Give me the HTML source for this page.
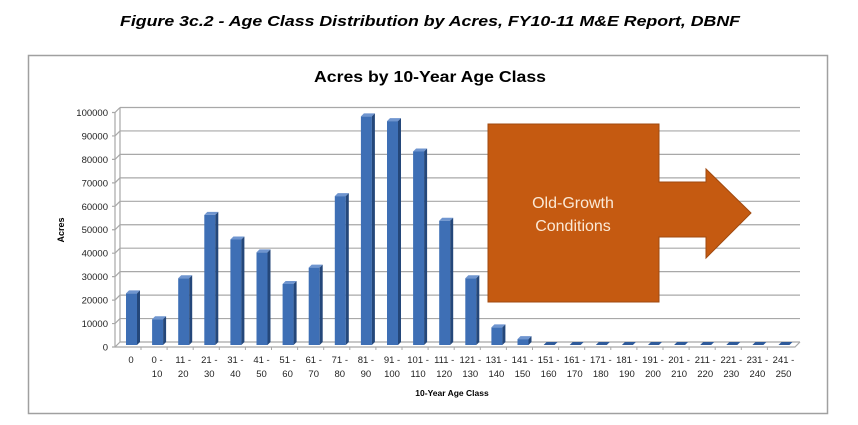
<!DOCTYPE html>
<html><head><meta charset="utf-8"><style>
html,body{margin:0;padding:0;background:#fff;}
svg{display:block;}
</style></head><body>
<svg width="858" height="425" viewBox="0 0 858 425" xmlns="http://www.w3.org/2000/svg" font-family="Liberation Sans, sans-serif">
<text x="430" y="26" text-anchor="middle" font-size="15" font-weight="bold" font-style="italic" textLength="620" lengthAdjust="spacingAndGlyphs">Figure 3c.2 - Age Class Distribution by Acres, FY10-11 M&amp;E Report, DBNF</text>
<rect x="28.5" y="55.5" width="799" height="358" fill="#fff" stroke="#a0a0a0" stroke-width="1.5"/>
<text x="430" y="82" text-anchor="middle" font-size="16" font-weight="bold" textLength="232" lengthAdjust="spacingAndGlyphs">Acres by 10-Year Age Class</text>
<g stroke="#a8a8a8" stroke-width="1.2" fill="none">
<path d="M120 342H800M120 318.55H800M120 295.1H800M120 271.65H800M120 248.2H800M120 224.75H800M120 201.3H800M120 177.85H800M120 154.4H800M120 130.95H800M120 107.5H800"/>
<path d="M112 347H115L120 342M112 323.55H115L120 318.55M112 300.1H115L120 295.1M112 276.65H115L120 271.65M112 253.2H115L120 248.2M112 229.75H115L120 224.75M112 206.3H115L120 201.3M112 182.85H115L120 177.85M112 159.4H115L120 154.4M112 135.95H115L120 130.95M112 112.5H115L120 107.5"/>
<path d="M120 107.5V342M115 112.5V347M115 347H795L800 342"/>
</g>
<g font-size="9.5" text-anchor="end" fill="#222">
<text x="108" y="350.5">0</text><text x="108" y="327">10000</text><text x="108" y="303.6">20000</text><text x="108" y="280.2">30000</text><text x="108" y="256.7">40000</text><text x="108" y="233.2">50000</text><text x="108" y="209.8">60000</text><text x="108" y="186.3">70000</text><text x="108" y="162.9">80000</text><text x="108" y="139.5">90000</text><text x="108" y="116">100000</text>
</g>
<text transform="translate(64,230) rotate(-90)" text-anchor="middle" font-size="9" font-weight="bold">Acres</text>
<g>
<g transform="translate(126,293.4)"><rect width="11" height="51.6" fill="#3e6fb5"/><polygon points="0,0 3,-3 14,-3 11,0" fill="#6f95cf"/><polygon points="11,0 14,-3 14,48.6 11,51.6" fill="#24477a"/></g>
<g transform="translate(152.1,319.2)"><rect width="11" height="25.8" fill="#3e6fb5"/><polygon points="0,0 3,-3 14,-3 11,0" fill="#6f95cf"/><polygon points="11,0 14,-3 14,22.8 11,25.8" fill="#24477a"/></g>
<g transform="translate(178.2,278.2)"><rect width="11" height="66.8" fill="#3e6fb5"/><polygon points="0,0 3,-3 14,-3 11,0" fill="#6f95cf"/><polygon points="11,0 14,-3 14,63.8 11,66.8" fill="#24477a"/></g>
<g transform="translate(204.3,214.9)"><rect width="11" height="130.1" fill="#3e6fb5"/><polygon points="0,0 3,-3 14,-3 11,0" fill="#6f95cf"/><polygon points="11,0 14,-3 14,127.1 11,130.1" fill="#24477a"/></g>
<g transform="translate(230.4,239.5)"><rect width="11" height="105.5" fill="#3e6fb5"/><polygon points="0,0 3,-3 14,-3 11,0" fill="#6f95cf"/><polygon points="11,0 14,-3 14,102.5 11,105.5" fill="#24477a"/></g>
<g transform="translate(256.5,252.4)"><rect width="11" height="92.6" fill="#3e6fb5"/><polygon points="0,0 3,-3 14,-3 11,0" fill="#6f95cf"/><polygon points="11,0 14,-3 14,89.6 11,92.6" fill="#24477a"/></g>
<g transform="translate(282.6,284)"><rect width="11" height="61" fill="#3e6fb5"/><polygon points="0,0 3,-3 14,-3 11,0" fill="#6f95cf"/><polygon points="11,0 14,-3 14,58 11,61" fill="#24477a"/></g>
<g transform="translate(308.7,267.6)"><rect width="11" height="77.4" fill="#3e6fb5"/><polygon points="0,0 3,-3 14,-3 11,0" fill="#6f95cf"/><polygon points="11,0 14,-3 14,74.4 11,77.4" fill="#24477a"/></g>
<g transform="translate(334.8,196.1)"><rect width="11" height="148.9" fill="#3e6fb5"/><polygon points="0,0 3,-3 14,-3 11,0" fill="#6f95cf"/><polygon points="11,0 14,-3 14,145.9 11,148.9" fill="#24477a"/></g>
<g transform="translate(360.9,116.4)"><rect width="11" height="228.6" fill="#3e6fb5"/><polygon points="0,0 3,-3 14,-3 11,0" fill="#6f95cf"/><polygon points="11,0 14,-3 14,225.6 11,228.6" fill="#24477a"/></g>
<g transform="translate(387,121.1)"><rect width="11" height="223.9" fill="#3e6fb5"/><polygon points="0,0 3,-3 14,-3 11,0" fill="#6f95cf"/><polygon points="11,0 14,-3 14,220.9 11,223.9" fill="#24477a"/></g>
<g transform="translate(413.1,151.5)"><rect width="11" height="193.5" fill="#3e6fb5"/><polygon points="0,0 3,-3 14,-3 11,0" fill="#6f95cf"/><polygon points="11,0 14,-3 14,190.5 11,193.5" fill="#24477a"/></g>
<g transform="translate(439.2,220.7)"><rect width="11" height="124.3" fill="#3e6fb5"/><polygon points="0,0 3,-3 14,-3 11,0" fill="#6f95cf"/><polygon points="11,0 14,-3 14,121.3 11,124.3" fill="#24477a"/></g>
<g transform="translate(465.3,278.2)"><rect width="11" height="66.8" fill="#3e6fb5"/><polygon points="0,0 3,-3 14,-3 11,0" fill="#6f95cf"/><polygon points="11,0 14,-3 14,63.8 11,66.8" fill="#24477a"/></g>
<g transform="translate(491.4,327.4)"><rect width="11" height="17.6" fill="#3e6fb5"/><polygon points="0,0 3,-3 14,-3 11,0" fill="#6f95cf"/><polygon points="11,0 14,-3 14,14.6 11,17.6" fill="#24477a"/></g>
<g transform="translate(517.5,339.1)"><rect width="11" height="5.9" fill="#3e6fb5"/><polygon points="0,0 3,-3 14,-3 11,0" fill="#6f95cf"/><polygon points="11,0 14,-3 14,2.9 11,5.9" fill="#24477a"/></g>
<g fill="#2e5a9a">
<polygon points="543.6,345 546.6,342 557.6,342 554.6,345"/><polygon points="569.7,345 572.7,342 583.7,342 580.7,345"/><polygon points="595.8,345 598.8,342 609.8,342 606.8,345"/><polygon points="621.9,345 624.9,342 635.9,342 632.9,345"/><polygon points="648,345 651,342 662,342 659,345"/><polygon points="674.1,345 677.1,342 688.1,342 685.1,345"/><polygon points="700.2,345 703.2,342 714.2,342 711.2,345"/><polygon points="726.3,345 729.3,342 740.3,342 737.3,345"/><polygon points="752.4,345 755.4,342 766.4,342 763.4,345"/><polygon points="778.5,345 781.5,342 792.5,342 789.5,345"/>
</g>
</g>
<g stroke="#a8a8a8" stroke-width="1"><path d="M141 347v3M167.1 347v3M193.2 347v3M219.3 347v3M245.4 347v3M271.5 347v3M297.6 347v3M323.7 347v3M349.8 347v3M375.9 347v3M402 347v3M428.1 347v3M454.2 347v3M480.3 347v3M506.4 347v3M532.5 347v3M558.6 347v3M584.7 347v3M610.8 347v3M636.9 347v3M663 347v3M689.1 347v3M715.2 347v3M741.3 347v3M767.4 347v3"/></g>
<g font-size="9.5" text-anchor="middle" fill="#222">
<text x="131" y="363">0</text>
<text x="157.1" y="363">0 -</text><text x="157.1" y="377">10</text>
<text x="183.2" y="363">11 -</text><text x="183.2" y="377">20</text>
<text x="209.3" y="363">21 -</text><text x="209.3" y="377">30</text>
<text x="235.4" y="363">31 -</text><text x="235.4" y="377">40</text>
<text x="261.5" y="363">41 -</text><text x="261.5" y="377">50</text>
<text x="287.6" y="363">51 -</text><text x="287.6" y="377">60</text>
<text x="313.7" y="363">61 -</text><text x="313.7" y="377">70</text>
<text x="339.8" y="363">71 -</text><text x="339.8" y="377">80</text>
<text x="365.9" y="363">81 -</text><text x="365.9" y="377">90</text>
<text x="392" y="363">91 -</text><text x="392" y="377">100</text>
<text x="418.1" y="363">101 -</text><text x="418.1" y="377">110</text>
<text x="444.2" y="363">111 -</text><text x="444.2" y="377">120</text>
<text x="470.3" y="363">121 -</text><text x="470.3" y="377">130</text>
<text x="496.4" y="363">131 -</text><text x="496.4" y="377">140</text>
<text x="522.5" y="363">141 -</text><text x="522.5" y="377">150</text>
<text x="548.6" y="363">151 -</text><text x="548.6" y="377">160</text>
<text x="574.7" y="363">161 -</text><text x="574.7" y="377">170</text>
<text x="600.8" y="363">171 -</text><text x="600.8" y="377">180</text>
<text x="626.9" y="363">181 -</text><text x="626.9" y="377">190</text>
<text x="653" y="363">191 -</text><text x="653" y="377">200</text>
<text x="679.1" y="363">201 -</text><text x="679.1" y="377">210</text>
<text x="705.2" y="363">211 -</text><text x="705.2" y="377">220</text>
<text x="731.3" y="363">221 -</text><text x="731.3" y="377">230</text>
<text x="757.4" y="363">231 -</text><text x="757.4" y="377">240</text>
<text x="783.5" y="363">241 -</text><text x="783.5" y="377">250</text>
</g>
<text x="452" y="396" text-anchor="middle" font-size="8.5" font-weight="bold">10-Year Age Class</text>
<polygon points="488,124 659,124 659,182 706,182 706,169 751,213 706,258 706,237 659,237 659,302 488,302" fill="#c55a11" stroke="#a04a10" stroke-width="1"/>
<text x="573" y="208" text-anchor="middle" font-size="16" fill="#fbe9d6">Old-Growth</text>
<text x="573" y="231" text-anchor="middle" font-size="16" fill="#fbe9d6">Conditions</text>
</svg>
</body></html>
